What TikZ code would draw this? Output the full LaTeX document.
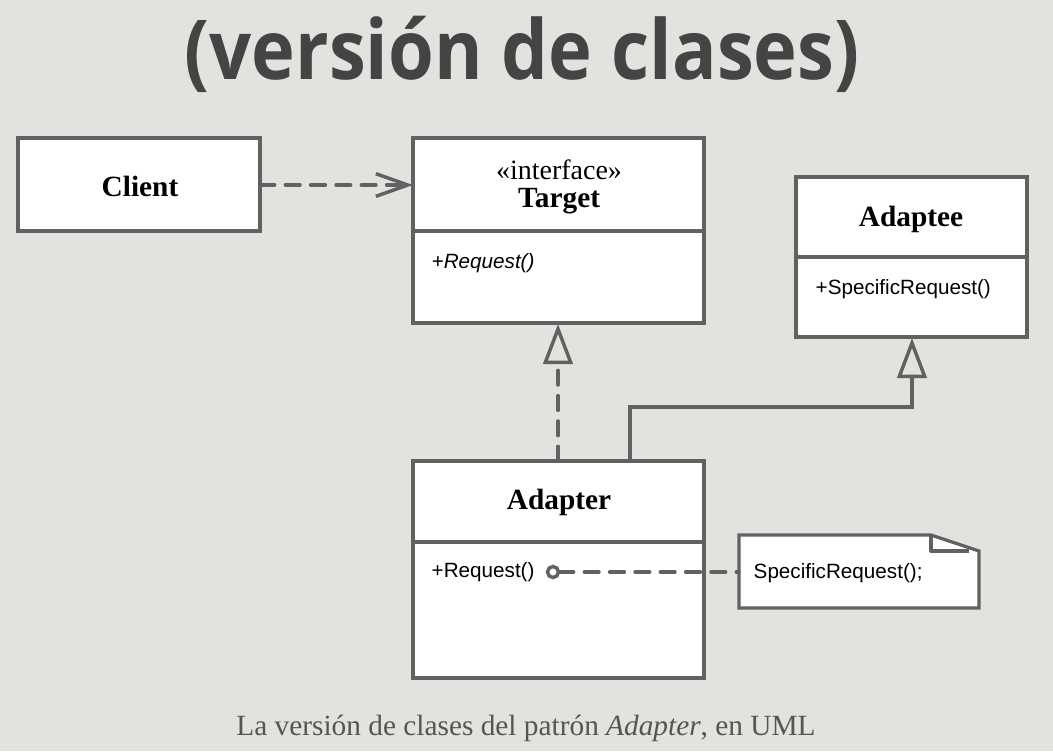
\documentclass[tikz,border=0pt]{standalone}
\usepackage{fontspec}
\setmainfont{Liberation Serif}
\setsansfont{Liberation Sans}
\newfontfamily\titlefont{Open Sans}
\usetikzlibrary{arrows.meta}
\definecolor{bg}{HTML}{E3E2DF}
\definecolor{ln}{HTML}{616161}
\definecolor{titlec}{HTML}{444444}
\definecolor{capc}{HTML}{555555}
\tikzset{
  box/.style={draw=ln, line width=2.6pt, fill=white},
  conn/.style={draw=ln, line width=2.6pt},
  dsh/.style={conn, dash pattern=on 11pt off 8pt, line cap=round},
  cname/.style={font=\fontsize{22}{25}\selectfont\bfseries, text=black},
  meth/.style={font=\sffamily\fontsize{15.5}{18}\selectfont, anchor=west, text=black},
}
\begin{document}
\begin{tikzpicture}[x=0.75pt,y=-0.75pt]
\fill[bg] (0,0) rectangle (1053,751);
\useasboundingbox (0,0) rectangle (1053,751);
% title
\node[text=titlec, font=\titlefont\bfseries\fontsize{62}{64}\selectfont, xscale=0.895, anchor=base] (title) at (522,79) {(versión de clases)};
% Client
\draw[box] (18,138) rectangle (260,231);
\node[cname] (client) at (140,186) {Client};
\coordinate (clientE) at (260,185);
% Target
\draw[box] (413,138) rectangle (704,323);
\draw[conn] (413,231) -- (704,231);
\node[font=\fontsize{21}{24}\selectfont, text=black] (stereo) at (559,170) {«interface»};
\node[cname] (target) at (559,201) {Target};
\node[meth, font=\sffamily\itshape\fontsize{15.5}{18}\selectfont] (treq) at (427,263) {+Request()};
\coordinate (targetW) at (413,185);
\coordinate (targetS) at (558,324);
% Adaptee
\draw[box] (796,177) rectangle (1027,337);
\draw[conn] (796,257) -- (1027,257);
\node[cname] (adaptee) at (911,219) {Adaptee};
\node[meth] (sreq) at (811,289) {+SpecificRequest()};
\coordinate (adapteeS) at (912,338);
% Adapter
\draw[box] (413,461) rectangle (704,678);
\draw[conn] (413,542) -- (704,542);
\node[cname] (adapter) at (559,502) {Adapter};
\node[meth] (areq) at (427,572) {+Request()};
\coordinate (adapterN1) at (558,461);
\coordinate (adapterN2) at (630,461);
% Note
\draw[box, line width=2.4pt] (739,535) -- (931,535) -- (979,551) -- (979,608) -- (739,608) -- cycle;
\draw[conn, line width=2.4pt, line join=round] (931,535) -- (931,551) -- (969,551);
\node[meth] (note) at (749,573) {SpecificRequest();};
\coordinate (noteW) at (739,572);
% connectors
\draw[dsh, -{Straight Barb[length=24pt,width=17pt,line cap=butt]}] (clientE) -- (targetW);
\draw[dsh, -{Triangle[open,length=30pt,width=22pt,line cap=butt]}] (adapterN1) -- (targetS);
\draw[conn, -{Triangle[open,length=30pt,width=22pt]}] (adapterN2) -- (630,407) -| (adapteeS);
\coordinate (circ) at (553,572);
\draw[dsh] (circ) ++(6,0) -- (noteW);
\draw[conn, line width=2.6pt, fill=white] (circ) circle (5.5);
% caption
\node[text=capc, font=\fontsize{22}{25}\selectfont] (caption) at (526,728) {La versión de clases del patrón \textit{Adapter}, en UML};
\end{tikzpicture}
\end{document}
